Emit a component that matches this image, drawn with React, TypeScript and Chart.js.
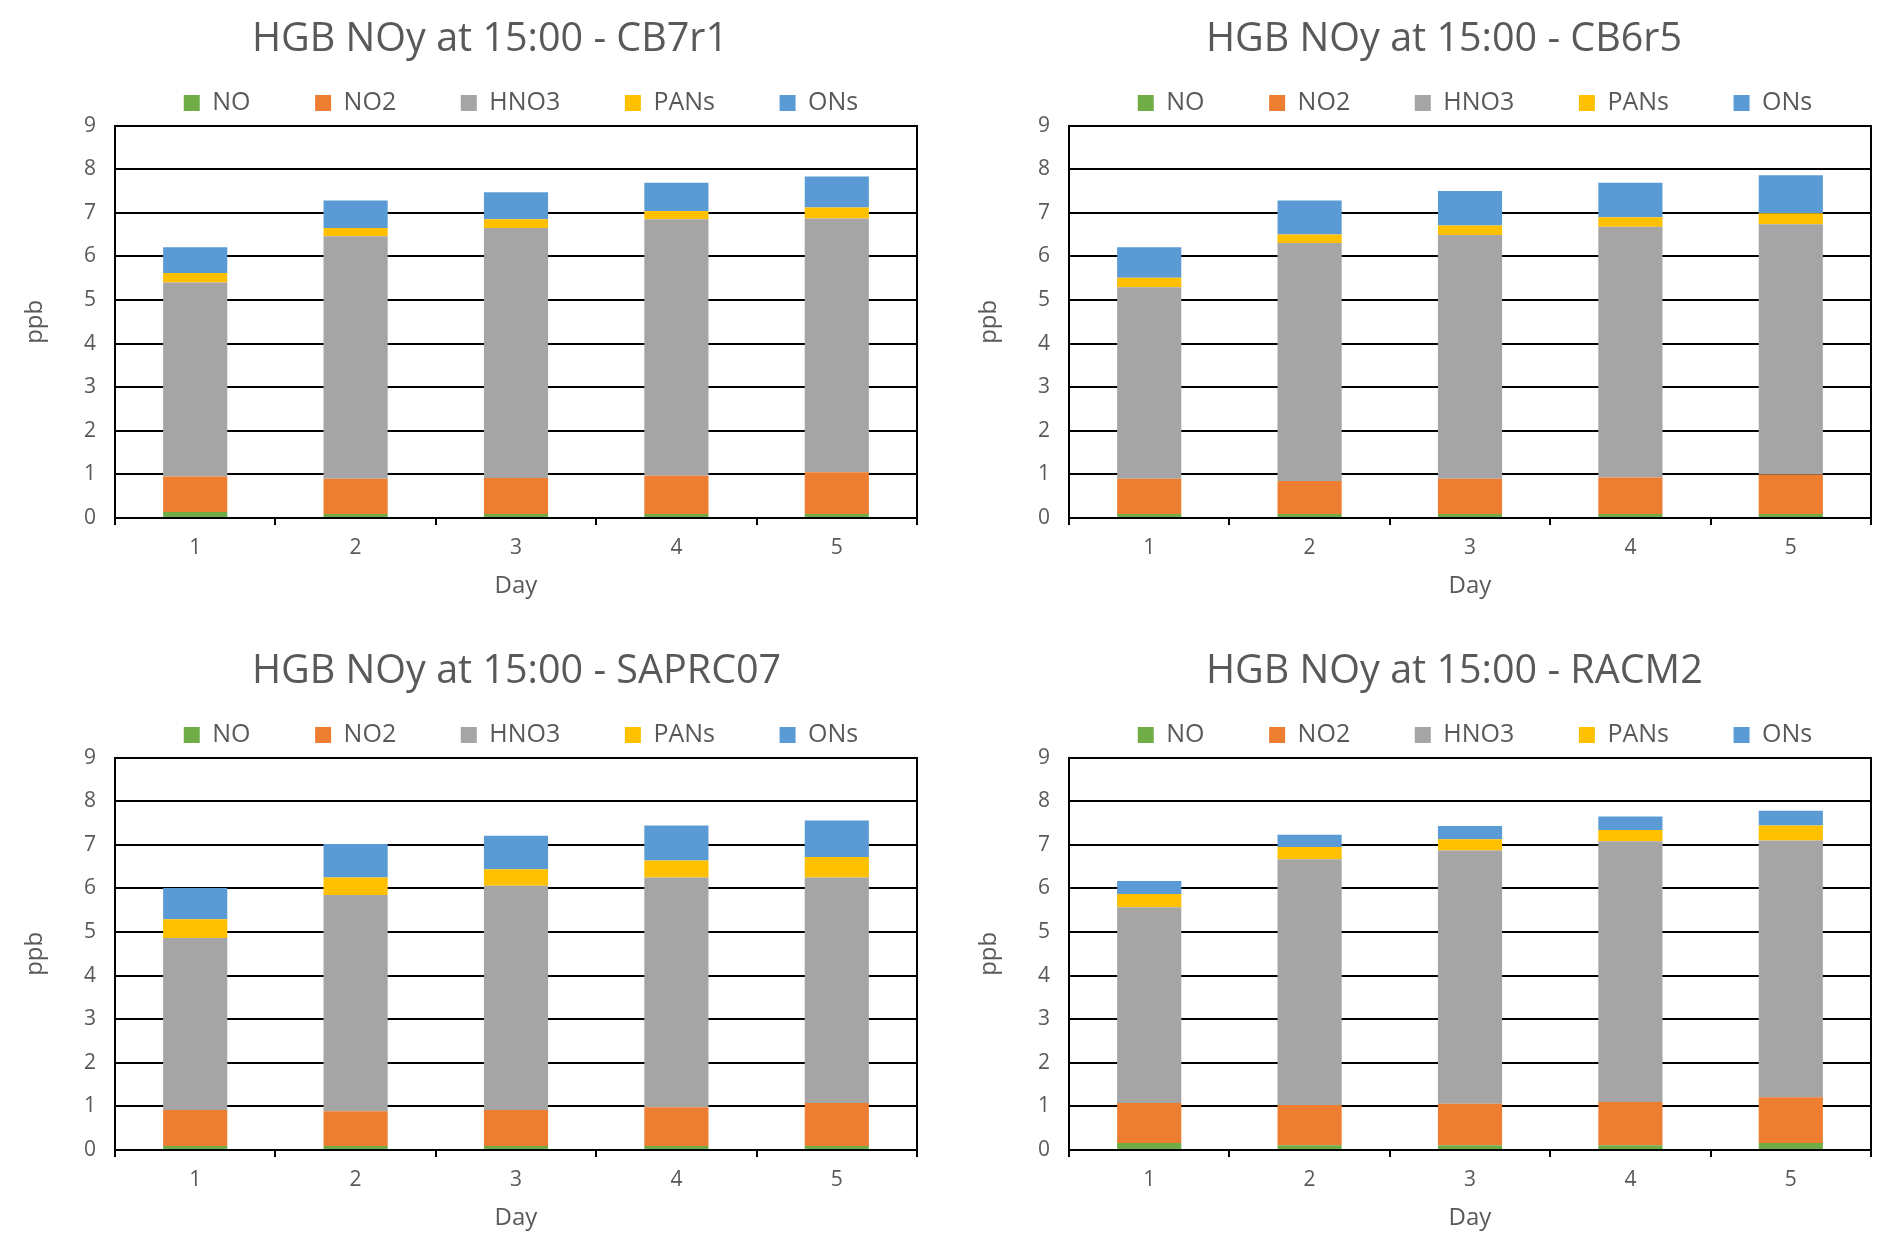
import React, { useEffect, useRef } from "react";
import { Chart, registerables } from "chart.js";

Chart.register(...registerables);

// ---- data ----
const days = ["1", "2", "3", "4", "5"];
const seriesNames = ["NO", "NO2", "HNO3", "PANs", "ONs"];
const seriesColors = ["#70AD47", "#ED7D31", "#A5A5A5", "#FFC000", "#5B9BD5"];
const yMin = 0;
const yMax = 9;
const yStep = 1;

const cb7r1NO = [0.14, 0.09, 0.09, 0.09, 0.09];
const cb7r1NO2 = [0.81, 0.81, 0.83, 0.88, 0.96];
const cb7r1HNO3 = [4.45, 5.56, 5.73, 5.88, 5.82];
const cb7r1PANs = [0.22, 0.19, 0.2, 0.19, 0.25];
const cb7r1ONs = [0.59, 0.63, 0.62, 0.65, 0.71];

const cb6r5NO = [0.09, 0.09, 0.09, 0.09, 0.09];
const cb6r5NO2 = [0.81, 0.76, 0.81, 0.84, 0.91];
const cb6r5HNO3 = [4.39, 5.46, 5.59, 5.75, 5.74];
const cb6r5PANs = [0.22, 0.19, 0.22, 0.22, 0.25];
const cb6r5ONs = [0.7, 0.78, 0.79, 0.79, 0.87];

const saprcNO = [0.09, 0.09, 0.09, 0.09, 0.09];
const saprcNO2 = [0.83, 0.8, 0.83, 0.89, 0.99];
const saprcHNO3 = [3.94, 4.96, 5.14, 5.27, 5.17];
const saprcPANs = [0.43, 0.4, 0.38, 0.39, 0.47];
const saprcONs = [0.72, 0.77, 0.77, 0.8, 0.84];

const racmNO = [0.16, 0.11, 0.11, 0.11, 0.16];
const racmNO2 = [0.92, 0.92, 0.95, 0.99, 1.05];
const racmHNO3 = [4.49, 5.64, 5.81, 5.98, 5.89];
const racmPANs = [0.3, 0.28, 0.26, 0.26, 0.34];
const racmONs = [0.3, 0.28, 0.3, 0.31, 0.34];

const panels = [
  { title: "HGB NOy at 15:00 - CB7r1", series: [cb7r1NO, cb7r1NO2, cb7r1HNO3, cb7r1PANs, cb7r1ONs], x: 0, y: 0 },
  { title: "HGB NOy at 15:00 - CB6r5", series: [cb6r5NO, cb6r5NO2, cb6r5HNO3, cb6r5PANs, cb6r5ONs], x: 954, y: 0 },
  { title: "HGB NOy at 15:00 - SAPRC07", series: [saprcNO, saprcNO2, saprcHNO3, saprcPANs, saprcONs], x: 0, y: 632 },
  { title: "HGB NOy at 15:00 - RACM2", series: [racmNO, racmNO2, racmHNO3, racmPANs, racmONs], x: 954, y: 632 },
];

// ---- styling ----
const FONT = "'Open Sans', 'Noto Sans', sans-serif";
const TEXT = "#595959";
const CW = 1042;
const CH = 628;
const TITLE_LEFT = 252;

const titleLeftPlugin = {
  id: "titleLeft",
  afterLayout(chart: any) {
    const tb = chart.titleBlock;
    if (tb) tb.left = TITLE_LEFT;
  },
};

function Panel({ title, series }: { title: string; series: number[][] }) {
  const ref = useRef<HTMLCanvasElement | null>(null);
  useEffect(() => {
    if (!ref.current) return;
    const chart = new Chart(ref.current, {
      type: "bar",
      data: {
        labels: days,
        datasets: seriesNames.map((name, i) => ({
          label: name,
          data: series[i],
          backgroundColor: seriesColors[i],
          borderWidth: 0,
          categoryPercentage: 0.4,
          barPercentage: 1,
        })),
      },
      options: {
        animation: false,
        responsive: false,
        devicePixelRatio: 1,
        layout: { padding: 0 },
        plugins: {
          title: {
            display: true,
            text: title,
            align: "start",
            color: TEXT,
            font: { family: FONT, size: 39.5, weight: "normal" },
            padding: { top: 16.5, bottom: -37.9 },
          },
          legend: {
            display: true,
            position: "top",
            labels: {
              color: TEXT,
              font: { family: FONT, size: 25 },
              boxWidth: 16,
              boxHeight: 16,
              padding: 64.6,
            },
          },
          tooltip: { enabled: false },
        },
        scales: {
          x: {
            stacked: true,
            grid: {
              display: true,
              drawOnChartArea: false,
              drawTicks: true,
              tickLength: 7,
              color: "#000000",
              lineWidth: 2,
              offset: true,
            },
            border: { display: true, color: "#000000", width: 2 },
            ticks: { color: TEXT, font: { family: FONT, size: 21 }, padding: 10 },
            title: {
              display: true,
              text: "Day",
              color: TEXT,
              font: { family: FONT, size: 24 },
              padding: { top: 0, bottom: 27.6 },
            },
            afterFit: (s: any) => {
              s.height = 110;
            },
          },
          y: {
            stacked: true,
            min: yMin,
            max: yMax,
            grid: { color: "#000000", lineWidth: 2, drawTicks: false },
            border: { display: true, color: "#000000", width: 2 },
            ticks: { stepSize: yStep, color: TEXT, font: { family: FONT, size: 21 }, padding: 19 },
            title: {
              display: true,
              text: "ppb",
              color: TEXT,
              font: { family: FONT, size: 24 },
              padding: { top: 20.5, bottom: 0 },
            },
            afterFit: (s: any) => {
              s.width = 115;
            },
          },
          y2: {
            position: "right",
            min: yMin,
            max: yMax,
            grid: { display: false },
            ticks: { display: false },
            border: { display: true, color: "#000000", width: 2 },
            afterFit: (s: any) => {
              s.width = CW - 917;
            },
          },
        },
      },
      plugins: [titleLeftPlugin],
    } as any);
    return () => chart.destroy();
  }, [title, series]);
  return <canvas ref={ref} width={CW} height={CH} style={{ display: "block" }} />;
}

export default function App() {
  return (
    <div
      style={{
        position: "fixed",
        left: 0,
        top: 0,
        width: 1892,
        height: 1255,
        overflow: "hidden",
        background: "#ffffff",
      }}
    >
      {panels.map((p) => (
        <div key={p.title} style={{ position: "absolute", left: p.x, top: p.y, width: CW, height: CH }}>
          <Panel title={p.title} series={p.series} />
        </div>
      ))}
    </div>
  );
}
